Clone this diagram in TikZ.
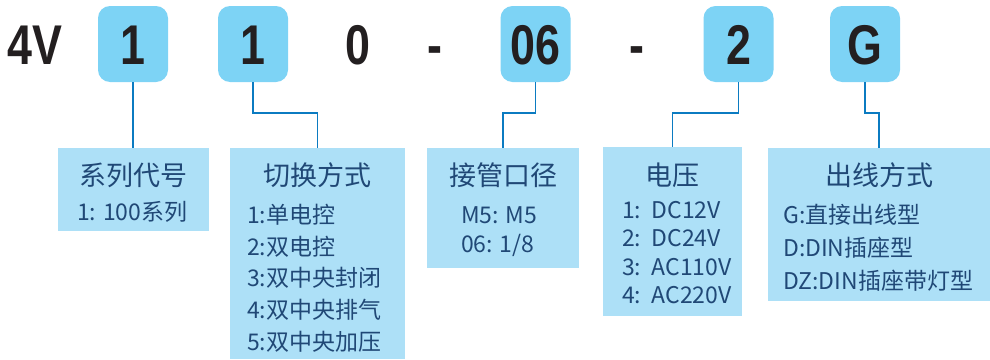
\documentclass[tikz,border=0pt]{standalone}
\usepackage{fontspec}
\setmainfont{Liberation Sans}
\newfontfamily\cjk{Noto Sans CJK SC}
\newfontfamily\topf[FakeStretch=0.8]{Liberation Sans Bold}
\definecolor{topblue}{RGB}{125,211,245}
\definecolor{boxblue}{RGB}{173,224,247}
\definecolor{connblue}{RGB}{11,123,193}
\definecolor{txtblue}{RGB}{32,72,118}
\definecolor{topink}{RGB}{35,31,32}
\tikzset{
  toptext/.style={inner sep=0pt, text height=40.1pt, text depth=0pt, text=topink,
    font=\topf\fontsize{56}{56}\selectfont},
  topbox/.style={toptext, fill=topblue, rounded corners=12pt, minimum width=70pt, minimum height=76pt},
  infobox/.style={fill=boxblue, inner sep=0pt},
  title/.style={inner sep=0pt, text=txtblue, font=\cjk\fontsize{27}{27}\selectfont},
  item/.style={inner sep=0pt, anchor=west, text=txtblue, font=\cjk\fontsize{23}{23}\selectfont},
  conn/.style={draw=connblue, line width=1.8pt}
}
\begin{document}
\begin{tikzpicture}[x=1pt, y=-1pt]
\useasboundingbox (0,0) rectangle (990,359);
% top row
\node[toptext] (v4) at (35,44) {4V};
\node[topbox] (b1) at (133,44) {1};
\node[topbox] (b2) at (253,44) {1};
\node[toptext] (z0) at (358,44) {0};
\node[toptext] (h1) at (435,44) {-};
\node[topbox] (b3) at (535.5,44) {06};
\node[toptext] (h2) at (637,44) {-};
\node[topbox] (b4) at (738.5,44) {2};
\node[topbox] (b5) at (865,44) {G};
% info boxes
\node[infobox, minimum width=151pt, minimum height=83pt] (s1) at (133.4,189.5) {};
\node[infobox, minimum width=175pt, minimum height=211pt] (s2) at (317.5,253.5) {};
\node[infobox, minimum width=152pt, minimum height=120pt] (s3) at (503,208) {};
\node[infobox, minimum width=139pt, minimum height=169pt] (s4) at (672.5,231.5) {};
\node[infobox, minimum width=222pt, minimum height=153pt] (s5) at (879,224.5) {};
% connectors
\draw[conn] (b1.south) -- (s1.north -| b1.south);
\draw[conn] (b2.south) -- ++(0,31) -| (s2.north);
\draw[conn] (b3.south) -- ++(0,31) -| (s3.north);
\draw[conn] (b4.south) -- ++(0,31) -| (s4.north);
\draw[conn] (b5.south) -- ++(0,31) -| (s5.north);
% titles
\node[title] (t1) at (133.4,175) {系列代号};
\node[title] (t2) at (317.5,175) {切换方式};
\node[title] (t3) at (503,175) {接管口径};
\node[title] (t4) at (672.5,175) {电压};
\node[title] (t5) at (879,175) {出线方式};
% items
\node[item] (i11) at (77,212) {1: 100系列};
\node[item] (i21) at (247,215) {1:单电控};
\node[item] (i22) at (247,247) {2:双电控};
\node[item] (i23) at (247,278) {3:双中央封闭};
\node[item] (i24) at (247,310) {4:双中央排气};
\node[item] (i25) at (247,342) {5:双中央加压};
\node[item] (i31) at (461,215) {M5: M5};
\node[item] (i32) at (461,245) {06: 1/8};
\node[item] (i41) at (622,210) {1:\ \ DC12V};
\node[item] (i42) at (622,238) {2:\ \ DC24V};
\node[item] (i43) at (622,267) {3:\ \ AC110V};
\node[item] (i44) at (622,295) {4:\ \ AC220V};
\node[item] (i51) at (783,215) {G:直接出线型};
\node[item] (i52) at (783,248) {D:DIN插座型};
\node[item] (i53) at (783,281) {DZ:DIN插座带灯型};
\end{tikzpicture}
\end{document}
